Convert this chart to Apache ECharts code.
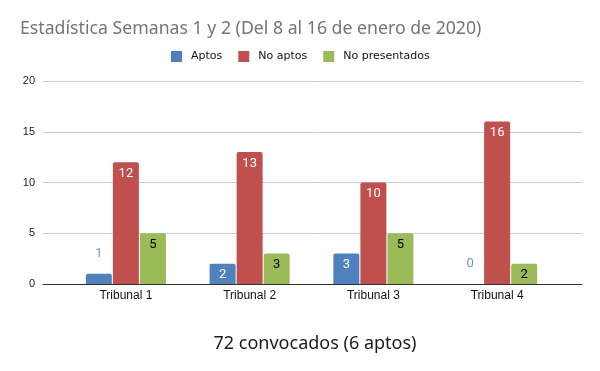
<!DOCTYPE html>
<html><head><meta charset="utf-8">
<script src="https://cdn.jsdelivr.net/npm/echarts@6/dist/echarts.min.js"></script>
<style>html,body{margin:0;padding:0;background:#fff}#c{width:600px;height:371px}</style>
</head><body><div id="c"></div>
<script>
const categories = ['Tribunal 1', 'Tribunal 2', 'Tribunal 3', 'Tribunal 4'];
const aptos = [1, 2, 3, 0];
const noAptos = [12, 13, 10, 16];
const noPresentados = [5, 3, 5, 2];
const seriesNames = ['Aptos', 'No aptos', 'No presentados'];
const colors = ['#4f81bd', '#c0504d', '#9bbb59'];
const insideColors = ['#ffffff', '#ffffff', '#000000'];
const yTicks = { min: 0, max: 20, interval: 5 };

function mkData(vals, i) {
  return vals.map(v => {
    if (v < 2) {
      return { value: v, label: { position: 'top', distance: 14, color: '#6f97cc' } };
    }
    return { value: v, label: { position: 'insideTop', distance: 5, color: insideColors[i] } };
  });
}
const all = [aptos, noAptos, noPresentados];

const chart = echarts.init(document.getElementById('c'));
chart.setOption({
  animation: false,
  title: [{
    text: 'Estadística Semanas 1 y 2 (Del 8 al 16 de enero de 2020)',
    left: 15, top: 15,
    textStyle: { fontFamily: 'Noto Sans', fontSize: 17.7, fontWeight: 'normal', color: '#757575' }
  }, {
    text: '72 convocados (6 aptos)',
    left: 310, top: 330, textAlign: 'center',
    textStyle: { fontFamily: 'Noto Sans', fontSize: 18, fontWeight: 'normal', color: '#1a1a1a' }
  }],
  legend: {
    left: 166, top: 46, itemWidth: 11, itemHeight: 11, itemGap: 16,
    icon: 'rect',
    textStyle: { fontFamily: 'DejaVu Sans', fontSize: 11, color: '#111', padding: [0, 0, 0, 4] },
    data: seriesNames
  },
  grid: [
    { left: 43, right: 18, top: 81, bottom: 87 },
    { left: 64, right: 41, top: 81, bottom: 87 }
  ],
  xAxis: [
    { type: 'category', gridIndex: 0, data: [''], axisLabel: { show: false }, axisTick: { show: false },
      axisLine: { lineStyle: { color: '#333', width: 1 } } },
    { type: 'category', gridIndex: 1, data: categories, axisTick: { show: false },
      axisLine: { show: false },
      axisLabel: { margin: 6, fontFamily: 'Liberation Sans', fontSize: 12, color: '#111' } }
  ],
  yAxis: [
    { type: 'value', gridIndex: 0, min: yTicks.min, max: yTicks.max, interval: yTicks.interval,
      axisLabel: { margin: 8, fontFamily: 'Liberation Sans', fontSize: 11, color: '#222' },
      splitLine: { lineStyle: { color: '#ccc' } }, axisLine: { show: false }, axisTick: { show: false } },
    { type: 'value', gridIndex: 1, min: yTicks.min, max: yTicks.max, interval: yTicks.interval,
      show: false }
  ],
  series: all.map((vals, i) => ({
    name: seriesNames[i], type: 'bar', xAxisIndex: 1, yAxisIndex: 1,
    data: mkData(vals, i),
    barWidth: 26, barGap: '4%',
    itemStyle: { color: colors[i], borderRadius: [2, 2, 0, 0] },
    label: { show: true, fontFamily: 'Roboto', fontSize: 13 }
  }))
});
</script></body></html>
